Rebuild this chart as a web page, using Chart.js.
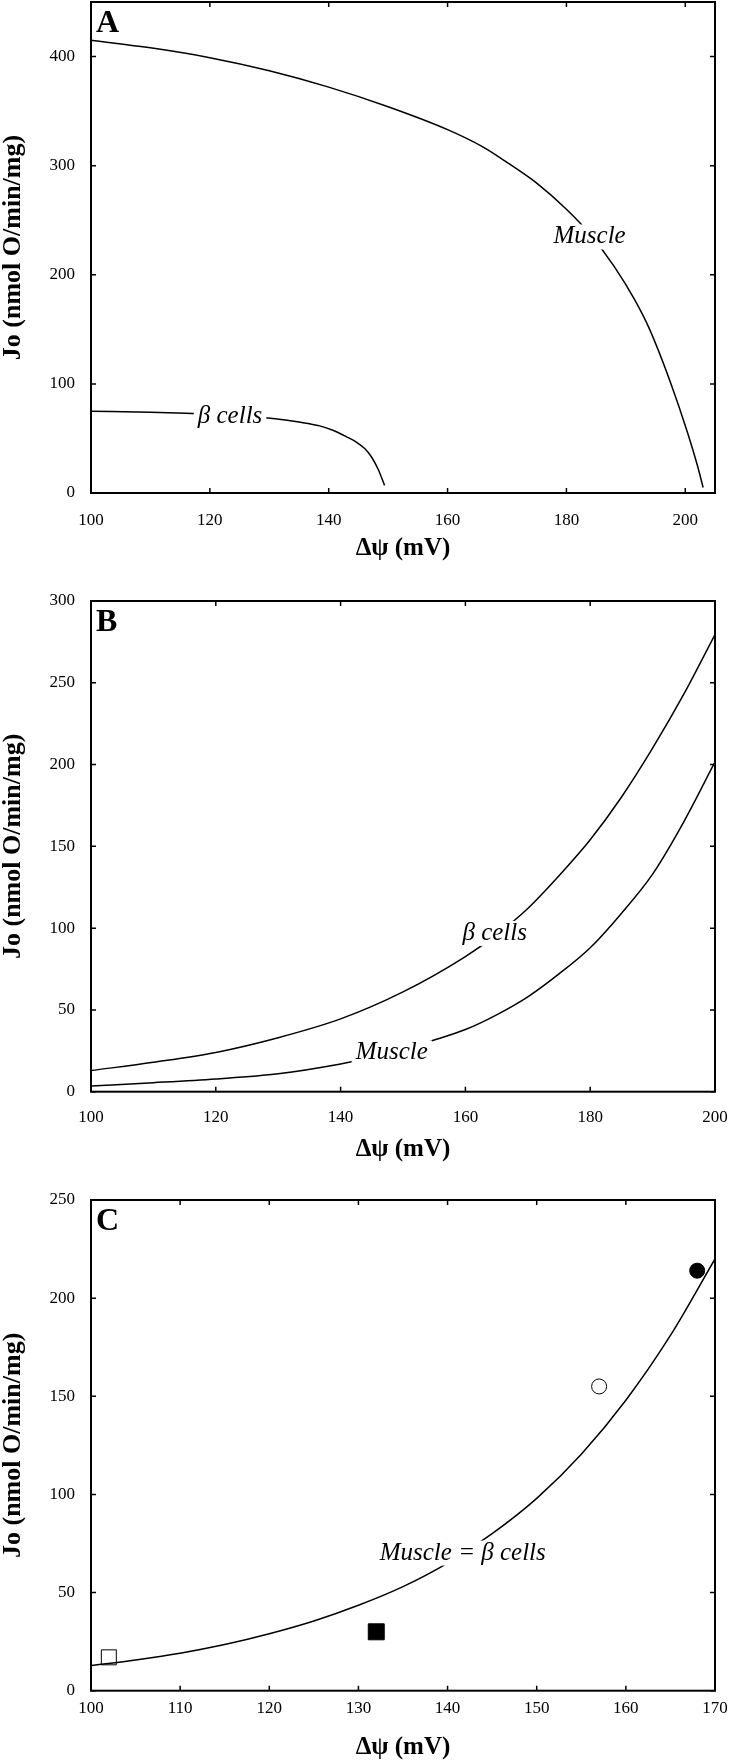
<!DOCTYPE html>
<html lang="en">
<head>
<meta charset="UTF-8" />
<title>Jo vs membrane potential</title>
<script src="https://cdn.jsdelivr.net/npm/chart.js"></script>
<style>
  body { margin: 0; background: #fff; }
  .wrap { position: relative; width: 729px; height: 1761px; }
  canvas { position: absolute; left: 0; }
</style>
</head>
<body>
<div class="wrap">
  <canvas id="chartA" width="729" height="575" style="top:0px"></canvas>
  <canvas id="chartB" width="729" height="610" style="top:570px"></canvas>
  <canvas id="chartC" width="729" height="586" style="top:1175px"></canvas>
</div>
<script>
const FONT = '"Liberation Serif", "Times New Roman", serif';

// ---- Panel A ----
const aMuscleX = [100, 110, 120, 130, 140, 150, 160, 166, 170, 175, 180, 184, 188, 191.5, 194, 197.6, 200.4, 202.1, 203];
const aMuscleY = [415, 408, 399, 387, 372, 354, 333, 317, 303, 284, 260, 237, 208, 177, 150, 100, 55, 24, 5];
const aBetaX = [100, 110, 116, 125, 131, 135, 138.5, 140.7, 143, 144.7, 146.1, 147.2, 148.3, 149.4];
const aBetaY = [75, 74, 73, 71, 68, 65, 61.5, 57.5, 51.5, 46.5, 40.5, 33, 22, 7];
const aXTicks = [100, 120, 140, 160, 180, 200];
const aYTicks = [0, 100, 200, 300, 400];
const aLabels = ['Muscle', 'β cells'];
const aLabelX = [183.9, 123.4];
const aLabelY = [228.7, 64.1];

// ---- Panel B ----
const bBetaX = [100, 110, 120, 130, 140, 150, 160, 165, 170, 175, 180, 185, 190, 195, 200];
const bBetaY = [12.9, 18, 24, 33, 44.5, 61, 82.6, 96, 112, 132, 154, 180, 210, 243, 279.5];
const bMuscleX = [100, 110, 120, 130, 140, 145, 150, 155, 160, 165, 170, 175, 180, 185, 190, 195, 200];
const bMuscleY = [3.5, 5.5, 7.8, 11, 17, 21, 26, 31.6, 38, 47, 58, 72, 88, 109, 133, 165, 201.6];
const bXTicks = [100, 120, 140, 160, 180, 200];
const bYTicks = [0, 50, 100, 150, 200, 250, 300];
const bLabels = ['β cells', 'Muscle'];
const bLabelX = [164.7, 148.2];
const bLabelY = [92.8, 19.8];

// ---- Panel C ----
const cCurveX = [100, 105, 110, 115, 120, 125, 130, 135, 140, 145, 150, 155, 160, 165, 170];
const cCurveY = [12.8, 15.7, 19.1, 23.5, 29, 35.5, 43.5, 53, 65, 80, 98, 120.5, 148, 181, 220];
const cPointX = [102, 132, 157, 168];
const cPointY = [17, 30, 155, 214];
const cXTicks = [100, 110, 120, 130, 140, 150, 160, 170];
const cYTicks = [0, 50, 100, 150, 200, 250];
const cLabels = ['Muscle = β cells'];
const cLabelX = [141.7];
const cLabelY = [66.8];

const toXY = (xs, ys) => xs.map((x, i) => ({ x: x, y: ys[i] }));

function curve(xs, ys) {
    return {
        data: toXY(xs, ys),
        showLine: true,
        borderColor: '#000',
        borderWidth: 1.5,
        pointRadius: 0,
        cubicInterpolationMode: 'monotone'
    };
}

// frame box, inward ticks, panel letter and curve labels
function panelPlugin(letter, texts, lx, ly) {
    return {
        id: 'panel' + letter,
        afterDraw(chart) {
            const ctx = chart.ctx;
            const a = chart.chartArea;
            const xs = chart.scales.x, ys = chart.scales.y;
            ctx.save();
            ctx.font = 'italic 25px ' + FONT;
            ctx.textAlign = 'center';
            ctx.textBaseline = 'alphabetic';
            texts.forEach((t, i) => {
                const px = xs.getPixelForValue(lx[i]);
                const py = ys.getPixelForValue(ly[i]);
                const w = ctx.measureText(t).width;
                ctx.fillStyle = '#fff';
                ctx.fillRect(px - w / 2 - 4, py - 19, w + 8, 25);
                ctx.fillStyle = '#000';
                ctx.fillText(t, px, py);
            });

            ctx.strokeStyle = '#000';
            ctx.lineWidth = 2;
            ctx.strokeRect(a.left, a.top, a.right - a.left, a.bottom - a.top);
            ctx.lineWidth = 1.5;
            ctx.beginPath();
            xs.ticks.forEach(t => {
                const px = xs.getPixelForValue(t.value);
                ctx.moveTo(px, a.bottom); ctx.lineTo(px, a.bottom - 5);
                ctx.moveTo(px, a.top); ctx.lineTo(px, a.top + 5);
            });
            ys.ticks.forEach(t => {
                const py = ys.getPixelForValue(t.value);
                ctx.moveTo(a.left, py); ctx.lineTo(a.left + 5, py);
                ctx.moveTo(a.right, py); ctx.lineTo(a.right - 5, py);
            });
            ctx.stroke();

            ctx.fillStyle = '#000';
            ctx.textAlign = 'left';
            ctx.font = 'bold 32px ' + FONT;
            ctx.fillText(letter, a.left + 5, a.top + 30);
            ctx.restore();
        }
    };
}

function makeChart(id, p) {
    new Chart(document.getElementById(id), {
        type: 'scatter',
        data: { datasets: p.datasets },
        options: {
            responsive: false,
            animation: false,
            devicePixelRatio: 1,
            layout: { padding: { left: 0, right: 14, top: p.top, bottom: 0 } },
            plugins: { legend: { display: false }, tooltip: { enabled: false } },
            scales: {
                x: {
                    type: 'linear', min: p.xMin, max: p.xMax,
                    grid: { display: false, drawTicks: false },
                    border: { display: false },
                    afterBuildTicks: s => { s.ticks = p.xTicks.map(v => ({ value: v })); },
                    ticks: { padding: p.xPad, maxRotation: 0, autoSkip: false, color: '#000', font: { family: FONT, size: 17 } },
                    title: { display: true, text: 'Δψ (mV)', color: '#000', padding: { top: 0, bottom: p.titlePad },
                        font: { family: FONT, size: 25, weight: 'bold', lineHeight: 1 } },
                    afterFit: s => { s.height = p.xHeight; s.paddingLeft = 0; s.paddingRight = 0; }
                },
                y: {
                    type: 'linear', min: p.yMin, max: p.yMax,
                    grid: { display: false, drawTicks: false },
                    border: { display: false },
                    afterBuildTicks: s => { s.ticks = p.yTicks.map(v => ({ value: v })); },
                    ticks: { padding: 16, autoSkip: false, color: '#000', font: { family: FONT, size: 17 } },
                    title: { display: true, text: 'Jo (nmol O/min/mg)', color: '#000', padding: { top: 0, bottom: 0 },
                        font: { family: FONT, size: 26, weight: 'bold', lineHeight: 1 } },
                    afterFit: s => { s.width = 91; s.paddingTop = 0; s.paddingBottom = 0; }
                }
            }
        },
        plugins: [p.plugin]
    });
}

makeChart('chartA', {
    datasets: [curve(aMuscleX, aMuscleY), curve(aBetaX, aBetaY)],
    xMin: 100, xMax: 205, yMin: 0, yMax: 450,
    xTicks: aXTicks, yTicks: aYTicks,
    top: 2, xHeight: 82, xPad: 17, titlePad: 14,
    plugin: panelPlugin('A', aLabels, aLabelX, aLabelY)
});

makeChart('chartB', {
    datasets: [curve(bBetaX, bBetaY), curve(bMuscleX, bMuscleY)],
    xMin: 100, xMax: 200, yMin: 0, yMax: 300,
    xTicks: bXTicks, yTicks: bYTicks,
    top: 31, xHeight: 88.3, xPad: 16, titlePad: 18,
    plugin: panelPlugin('B', bLabels, bLabelX, bLabelY)
});

makeChart('chartC', {
    datasets: [
        curve(cCurveX, cCurveY),
        {
            data: toXY(cPointX, cPointY),
            showLine: false,
            pointStyle: ['rect', 'rect', 'circle', 'circle'],
            pointRadius: [10.6, 11.3, 7.5, 7.5],
            backgroundColor: ['#fff', '#000', '#fff', '#000'],
            borderColor: '#000',
            borderWidth: 1
        }
    ],
    xMin: 100, xMax: 170, yMin: 0, yMax: 250,
    xTicks: cXTicks, yTicks: cYTicks,
    top: 25, xHeight: 70.3, xPad: 8, titlePad: 1,
    plugin: panelPlugin('C', cLabels, cLabelX, cLabelY)
});
</script>
</body>
</html>
